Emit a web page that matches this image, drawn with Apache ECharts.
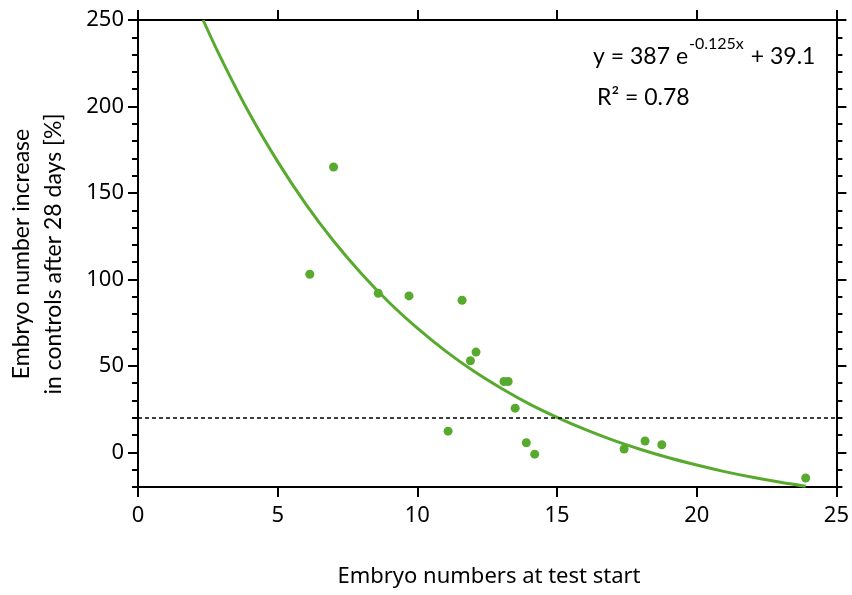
<!DOCTYPE html>
<html>
<head>
<meta charset="utf-8">
<title>Embryo number increase vs. embryo numbers at test start</title>
<script src="https://cdn.jsdelivr.net/npm/echarts@6/dist/echarts.min.js"></script>
<style>
  html, body { margin: 0; padding: 0; background: #fff; }
  #chart { width: 852px; height: 595px; }
</style>
</head>
<body>
<div id="chart"></div>
<script>
// Observed controls: embryo numbers at test start vs. increase after 28 days [%]
const startNumbers = [6.15, 7.0, 8.6, 9.7, 11.1, 11.6, 11.9, 12.1, 13.1, 13.25, 13.5, 13.9, 14.2, 17.4, 18.15, 18.75, 23.9];
const increasePct  = [103, 165, 92, 90.5, 12.3, 88, 53, 58, 41, 41, 25.6, 5.6, -1, 2, 6.6, 4.4, -14.8];

// Fitted exponential trend, sampled along x
const fitX = [2.33, 3, 4, 5, 6, 7, 8, 9, 10, 11, 12, 13, 14, 15, 16, 17, 18, 19, 20, 21, 22, 23, 23.9];
const fitY = [250, 226.9, 195.6, 168.1, 143.7, 122.2, 103.3, 86.5, 71.8, 58.7, 47.2, 37.1, 28.1, 20.3, 13.3, 7.1, 1.7, -3.1, -7.3, -11.1, -14.4, -17.3, -19.6];

// Axis ticks
const xTicks = [0, 5, 10, 15, 20, 25];
const yMajorTicks = [0, 50, 100, 150, 200, 250];
const thresholdPct = 20;

const GREEN = '#58aa2f';
const TICK_FONT = 'Noto Sans';
const TEXT_FONT = 'Lato';

const chart = echarts.init(document.getElementById('chart'), null, { renderer: 'canvas' });

const axisLine = { show: true, onZero: false, lineStyle: { color: '#000', width: 2 } };
const noLine = { show: false, onZero: false };
const tickStyle = { color: '#000', width: 2 };

const option = {
  animation: false,
  backgroundColor: '#fff',
  grid: { left: 138, right: 13, top: 20, bottom: 108, containLabel: false },
  xAxis: [
    {
      type: 'value', position: 'bottom', min: 0, max: 25, interval: 5,
      axisLine: axisLine,
      axisTick: { show: true, inside: false, length: 10, lineStyle: tickStyle },
      axisLabel: { color: '#000', fontSize: 22, fontFamily: TICK_FONT, margin: 18, customValues: xTicks },
      splitLine: { show: false }
    },
    {
      type: 'value', position: 'top', min: 0, max: 25, interval: 5,
      axisLine: axisLine,
      axisTick: { show: true, inside: false, length: 10, lineStyle: tickStyle },
      axisLabel: { show: false },
      splitLine: { show: false }
    }
  ],
  yAxis: [
    {
      type: 'value', position: 'left', min: -20, max: 250,
      axisLine: axisLine,
      axisTick: { show: true, length: 10, customValues: yMajorTicks, lineStyle: tickStyle },
      axisLabel: { color: '#000', fontSize: 22, fontFamily: TICK_FONT, margin: 14, customValues: yMajorTicks },
      splitLine: { show: false }
    },
    {
      type: 'value', position: 'left', min: -20, max: 250, interval: 10,
      axisLine: noLine,
      axisTick: { show: true, length: 6, lineStyle: tickStyle },
      axisLabel: { show: false },
      splitLine: { show: false }
    },
    {
      type: 'value', position: 'right', min: -20, max: 250,
      axisLine: axisLine,
      axisTick: { show: true, length: 10, customValues: yMajorTicks, lineStyle: tickStyle },
      axisLabel: { show: false },
      splitLine: { show: false }
    },
    {
      type: 'value', position: 'right', min: -20, max: 250, interval: 10,
      axisLine: noLine,
      axisTick: { show: true, length: 6, lineStyle: tickStyle },
      axisLabel: { show: false },
      splitLine: { show: false }
    }
  ],
  series: [
    {
      name: 'fit',
      type: 'line',
      xAxisIndex: 0, yAxisIndex: 0,
      data: fitX.map((x, i) => [x, fitY[i]]),
      smooth: 0.4,
      showSymbol: false,
      lineStyle: { color: GREEN, width: 3 },
      z: 2
    },
    {
      name: 'controls',
      type: 'scatter',
      xAxisIndex: 0, yAxisIndex: 0,
      data: startNumbers.map((x, i) => [x, increasePct[i]]),
      symbol: 'circle',
      symbolSize: 9,
      itemStyle: { color: GREEN, opacity: 1 },
      z: 3,
      markLine: {
        silent: true,
        symbol: 'none',
        label: { show: false },
        lineStyle: { color: '#000', type: [4, 3], width: 1.5 },
        data: [{ yAxis: thresholdPct }]
      }
    }
  ],
  graphic: [
    {
      type: 'text',
      left: 593, top: 36,
      style: {
        text: '{a|y = 387 e}{s|-0.125x}{a| + 39.1}',
        rich: {
          a: { fontFamily: TEXT_FONT, fontSize: 23, color: '#000', lineHeight: 32, verticalAlign: 'bottom' },
          s: { fontFamily: TEXT_FONT, fontSize: 16, color: '#000', lineHeight: 32, verticalAlign: 'top', padding: [0, 1, 0, 1] }
        }
      }
    },
    {
      type: 'text',
      left: 597, top: 86,
      style: { text: 'R² = 0.78', font: '23px ' + TEXT_FONT, fill: '#000' }
    },
    {
      type: 'text',
      x: 38, y: 254,
      rotation: Math.PI / 2,
      style: {
        text: 'Embryo number increase\nin controls after 28 days [%]',
        font: '23px ' + TEXT_FONT,
        fill: '#000',
        align: 'center',
        verticalAlign: 'middle',
        lineHeight: 32
      }
    },
    {
      type: 'text',
      x: 489, y: 577,
      style: {
        text: 'Embryo numbers at test start',
        font: '22px ' + TICK_FONT,
        fill: '#000',
        align: 'center',
        verticalAlign: 'middle'
      }
    }
  ]
};

chart.setOption(option);
</script>
</body>
</html>
